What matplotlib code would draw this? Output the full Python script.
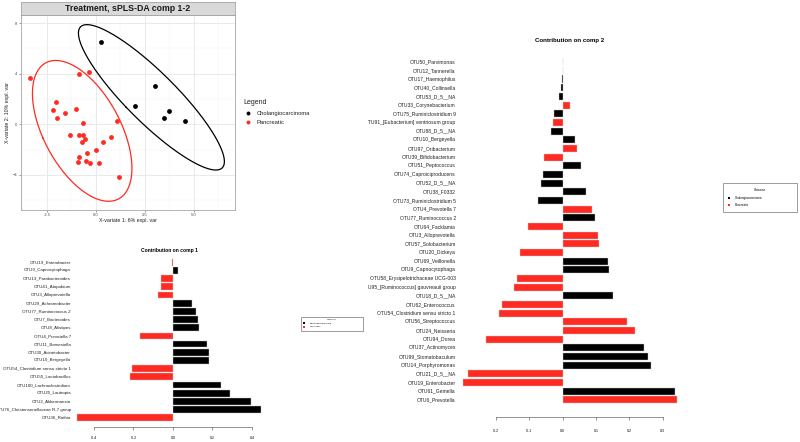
import numpy as np
import matplotlib
matplotlib.use("Agg")
import matplotlib.pyplot as plt
from matplotlib.patches import Rectangle
from matplotlib.transforms import Bbox, TransformedBbox, blended_transform_factory

plt.rcParams['font.family'] = ['Liberation Sans', 'DejaVu Sans']

# ---- data -------------------------------------------------------------
groups = ['Cholangiocarcinoma', 'Pancreatic']
group_codes = ['C', 'P']
group_colors = {'C': '#000000', 'P': '#FF2A22'}

# sample scores on sPLS-DA components 1 and 2
chol_x = [0.26, 3.03, 1.99, 3.74, 3.50, 4.56]
chol_y = [6.48, 3.04, 1.48, 1.06, 0.50, 0.24]
panc_x = [-3.36, -0.85, -0.36, -2.01, -2.18, -0.99, -1.55, -1.98, -0.63, 1.11,
          -1.33, -0.87, -0.63, 0.80, -0.53, -0.70, 0.39, -0.46, 0.03, -0.84,
          -0.92, -0.51, -0.27, 0.15, 1.19]
panc_y = [3.66, 3.98, 4.14, 1.77, 1.16, 1.19, 0.87, 0.47, 0.08, 0.24,
          -0.82, -0.82, -0.84, -1.03, -1.19, -1.37, -1.42, -2.27, -2.00, -2.56,
          -2.98, -2.90, -3.06, -3.06, -4.16]

comp1_names = ['OTU19_Enterobacter', 'OTU9_Capnocytophaga', 'OTU13_Parabacteroides',
               'OTU41_Atopobium', 'OTU3_Alloprevotella', 'OTU29_Achromobacter',
               'OTU77_Ruminococcus 2', 'OTU7_Bacteroides', 'OTU8_Alistipes',
               'OTU4_Prevotella 7', 'OTU11_Barnesiella', 'OTU30_Acinetobacter',
               'OTU10_Bergeyella', 'OTU54_Clostridium sensu stricto 1',
               'OTU55_Lactobacillus', 'OTU100_Lachnoclostridium', 'OTU25_Lautropia',
               'OTU2_Akkermansia', 'OTU76_Christensenellaceae R-7 group', 'OTU36_Rothia']
comp1_values = [-0.005, 0.027, -0.061, -0.061, -0.078, 0.098, 0.118, 0.125, 0.133,
                -0.165, 0.172, 0.180, 0.184, -0.206, -0.219, 0.241, 0.290, 0.395,
                0.444, -0.485]
comp1_groups = ['P', 'C', 'P', 'P', 'P', 'C', 'C', 'C', 'C', 'P',
                'C', 'C', 'C', 'P', 'P', 'C', 'C', 'C', 'C', 'P']

comp2_names = ['OTU50_Parvimonas', 'OTU12_Tannerella', 'OTU17_Haemophilus',
               'OTU40_Collinsella', 'OTU53_D_5__NA', 'OTU33_Corynebacterium',
               'OTU75_Ruminiclostridium 9', 'OTU91_[Eubacterium] ventriosum group',
               'OTU88_D_5__NA', 'OTU10_Bergeyella', 'OTU97_Oribacterium',
               'OTU39_Bifidobacterium', 'OTU51_Peptococcus', 'OTU74_Caproiciproducens',
               'OTU52_D_5__NA', 'OTU38_F0332', 'OTU73_Ruminiclostridium 5',
               'OTU4_Prevotella 7', 'OTU77_Ruminococcus 2', 'OTU64_Facklamia',
               'OTU3_Alloprevotella', 'OTU57_Solobacterium', 'OTU20_Dickeya',
               'OTU69_Veillonella', 'OTU9_Capnocytophaga',
               'OTU58_Erysipelotrichaceae UCG-003', 'OTU95_[Ruminococcus] gauvreauii group',
               'OTU18_D_5__NA', 'OTU62_Enterococcus', 'OTU54_Clostridium sensu stricto 1',
               'OTU56_Streptococcus', 'OTU24_Neisseria', 'OTU94_Dorea',
               'OTU37_Actinomyces', 'OTU99_Stomatobaculum', 'OTU14_Porphyromonas',
               'OTU21_D_5__NA', 'OTU19_Enterobacter', 'OTU61_Gemella', 'OTU6_Prevotella']
comp2_values = [0.001, 0.002, -0.003, -0.004, -0.010, 0.022, -0.027, -0.030, -0.035,
                0.037, 0.042, -0.055, 0.056, -0.060, -0.064, 0.070, -0.073, 0.089,
                0.098, -0.104, 0.106, 0.108, -0.127, 0.136, 0.138, -0.138, -0.147,
                0.150, -0.183, -0.191, 0.192, 0.218, -0.231, 0.244, 0.257, 0.265,
                -0.284, -0.298, 0.338, 0.342]
comp2_groups = ['C', 'P', 'C', 'C', 'C', 'P', 'C', 'P', 'C', 'C',
                'P', 'P', 'C', 'C', 'C', 'C', 'C', 'P', 'C', 'P',
                'P', 'P', 'P', 'C', 'C', 'P', 'P', 'C', 'P', 'P',
                'P', 'P', 'P', 'C', 'C', 'C', 'P', 'P', 'C', 'P']

W, H = 800, 442
fig = plt.figure(figsize=(W / 100, H / 100), dpi=100)


def px_axes(l, t, r, b, **kw):
    return fig.add_axes([l / W, 1 - b / H, (r - l) / W, (b - t) / H], **kw)


def conf_ellipse(x, y, chi2=5.991, n=300):
    pts = np.column_stack([x, y])
    mu = pts.mean(axis=0)
    vals, vecs = np.linalg.eigh(np.cov(pts, rowvar=False))
    t = np.linspace(0, 2 * np.pi, n)
    circ = np.column_stack([np.cos(t), np.sin(t)])
    ell = (circ * np.sqrt(vals * chi2)) @ vecs.T + mu
    return ell[:, 0], ell[:, 1]


# ---- sample plot ------------------------------------------------------
ax0 = px_axes(21, 15, 235, 210)
ax0.set_xlim(-3.82, 7.12)
ax0.set_ylim(-6.77, 8.64)
ax0.set_xticks([-2.5, 0, 2.5, 5])
ax0.set_xticklabels(['-2.5', '0.0', '2.5', '5.0'])
ax0.set_yticks([-4, 0, 4, 8])
ax0.set_xticks([-3.75, -1.25, 1.25, 3.75, 6.25], minor=True)
ax0.set_yticks([-6, -2, 2, 6], minor=True)
ax0.grid(which='major', color='#E6E6E6', lw=0.6)
ax0.grid(which='minor', color='#F3F3F3', lw=0.35)
ax0.set_axisbelow(True)
ax0.tick_params(which='minor', length=0)
ax0.tick_params(which='major', length=1.5, width=0.4, color='#4D4D4D',
                labelcolor='#4D4D4D', labelsize=3, pad=1)
for s in ax0.spines.values():
    s.set_color('#A6A6A6')
    s.set_linewidth(0.6)

for code, xs, ys in [('C', chol_x, chol_y), ('P', panc_x, panc_y)]:
    ex, ey = conf_ellipse(xs, ys)
    ax0.plot(ex, ey, color=group_colors[code], lw=0.9)
    ax0.scatter(xs, ys, s=12, color=group_colors[code], lw=0, zorder=3)

ax0.set_xlabel('X-variate 1: 6% expl. var', fontsize=3.8, labelpad=0.5, color='#222222')
ax0.set_ylabel('X-variate 2: 10% expl. var', fontsize=3.8, labelpad=2, color='#222222')

hdr = px_axes(21, 2, 235, 15)
hdr.set_facecolor('#D9D9D9')
hdr.set_xticks([])
hdr.set_yticks([])
for s in hdr.spines.values():
    s.set_color('#A6A6A6')
    s.set_linewidth(0.6)
hdr.text(0.5, 0.5, 'Treatment, sPLS-DA comp 1-2', ha='center', va='center',
         fontsize=6.3, fontweight='bold', color='#1A1A1A', transform=hdr.transAxes)

# overlay for legends
deco = fig.add_axes([0, 0, 1, 1], zorder=5)
deco.set_xlim(0, W)
deco.set_ylim(H, 0)
deco.axis('off')

deco.text(243.7, 103, 'Legend', fontsize=5, va='center', color='#222222')
for i, code in enumerate(group_codes):
    yy = 113 + i * 9
    deco.scatter([248.3], [yy], s=8, color=group_colors[code], lw=0)
    deco.text(256.3, yy, groups[i], fontsize=4.2, va='center', color='#222222')


def outcome_legend(x0, y0, x1, y1, ty, rows, mx, tx, fs, ms):
    deco.add_patch(Rectangle((x0, y0), x1 - x0, y1 - y0, fill=False,
                             edgecolor='#8C8C8C', lw=0.6))
    deco.text((x0 + x1) / 2, ty, 'Outcome', fontsize=fs, ha='center', va='center')
    for i, code in enumerate(group_codes):
        deco.scatter([mx], [rows[i]], s=ms, marker='s', color=group_colors[code], lw=0)
        deco.text(tx, rows[i], groups[i], fontsize=fs, va='center')


outcome_legend(300.5, 317, 363, 330.5, 319.3, [323.3, 326.7], 304.3, 310, 1.7, 0.8)
outcome_legend(722.7, 183.3, 797.3, 212.3, 189.7, [198.3, 205], 728.7, 735, 2.2, 1.5)


# ---- loadings bar plots ------------------------------------------------
def loadings(ax, names, values, codes, xlim, ylim, bounds, ticks, fs, lab_x,
             tick_pad, clip=None):
    idx = np.arange(len(names))
    ax.barh(idx, values, height=0.82, color=[group_colors[c] for c in codes],
            edgecolor='#C8C8C8', linewidth=0.3)
    ax.set_xlim(*xlim)
    ax.set_ylim(*ylim)
    ax.set_yticks([])
    ax.set_xticks(ticks)
    ax.set_xticklabels(['%.1f' % t for t in ticks])
    ax.patch.set_alpha(0)
    for k in ['left', 'right', 'top']:
        ax.spines[k].set_visible(False)
    ax.spines['bottom'].set_bounds(*bounds)
    ax.spines['bottom'].set_color('#666666')
    ax.spines['bottom'].set_linewidth(0.5)
    ax.tick_params(axis='x', length=2.2, width=0.5, color='#666666',
                   labelsize=2.5, pad=tick_pad)
    tr = blended_transform_factory(ax.transAxes, ax.transData)
    for i, name in enumerate(names):
        t = ax.text(lab_x, i, name, transform=tr, ha='right', va='center',
                    fontsize=fs, color='#222222')
        if clip is not None:
            t.set_clip_box(clip)
            t.set_clip_on(True)


ax1 = px_axes(74, 255, 280, 427)
loadings(ax1, comp1_names, comp1_values, comp1_groups,
         xlim=(-0.501, 0.542), ylim=(20.13, -0.892), bounds=(-0.4, 0.4),
         ticks=[-0.4, -0.2, 0.0, 0.2, 0.4], fs=3.15, lab_x=-3 / 206, tick_pad=4)
fig.text(169 / W, 1 - 250.7 / H, 'Contribution on comp 1', ha='center', va='center',
         fontsize=3.6, fontweight='bold')

clip2 = TransformedBbox(Bbox([[368 / W, 0], [1, 1]]), fig.transFigure)
ax2 = px_axes(460, 50, 720, 417.3)
loadings(ax2, comp2_names, comp2_values, comp2_groups,
         xlim=(-0.308, 0.472), ylim=(41.01, -1.35), bounds=(-0.2, 0.3),
         ticks=[-0.2, -0.1, 0.0, 0.1, 0.2, 0.3], fs=3.6, lab_x=-4.3 / 260,
         tick_pad=6.5, clip=clip2)
fig.text(570 / W, 1 - 40.7 / H, 'Contribution on comp 2', ha='center', va='center',
         fontsize=4.4, fontweight='bold')

fig.savefig('out.png', dpi=100)
